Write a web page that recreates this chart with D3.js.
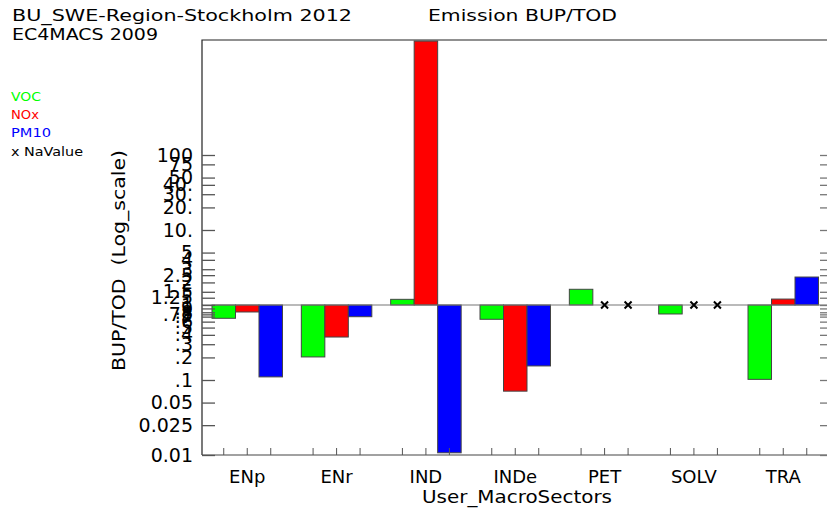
<!DOCTYPE html>
<html>
<head>
<meta charset="utf-8">
<script src="https://cdn.jsdelivr.net/npm/d3@7"></script>
<style>
  html, body { margin: 0; padding: 0; background: #fff; }
  svg { display: block; }
  text { font-family: "DejaVu Sans", sans-serif; fill: #000; }
</style>
</head>
<body>
<svg id="chart" width="827" height="511"></svg>
<script>
// Emission ratio BUP/TOD per macro sector (log scale), null = no value
const categories = ["ENp", "ENr", "IND", "INDe", "PET", "SOLV", "TRA"];
const seriesNames = ["VOC", "NOx", "PM10"];
const seriesColors = ["#00ff00", "#ff0000", "#0000ff"];
const voc  = [0.665, 0.203, 1.19, 0.645, 1.62, 0.759, 0.102];
const nox  = [0.807, 0.374, 3300, 0.071, null, null, 1.20];
const pm10 = [0.110, 0.698, 0.0107, 0.154, null, null, 2.36];
const tickValues = [100, 75, 50, 40, 30, 20, 10, 5, 4, 3, 2.5, 2, 1.5, 1.25, 1,
                    0.9, 0.8, 0.75, 0.7, 0.6, 0.5, 0.4, 0.3, 0.2, 0.1, 0.05, 0.025, 0.01];
const tickLabels = ["100", "75", "50", "40.", "30.", "20.", "10.", "5", "4", "3", "2.5", "2", "1.5", "1.25", "1",
                    ".9", ".8", ".75", ".7", ".6", ".5", ".4", ".3", ".2", ".1", "0.05", "0.025", "0.01"];
const yMin = 0.01, yMax = 3414;

const series = [voc, nox, pm10];
const svg = d3.select("#chart");

const plotLeft = 202, plotRight = 833, plotTop = 40, plotBottom = 455;

const y = d3.scaleLog().domain([yMin, yMax]).range([plotBottom, plotTop]);
const x0 = d3.scaleBand().domain(categories).range([212, 818.5]).paddingInner(0.211).paddingOuter(0);
const x1 = d3.scaleBand().domain(seriesNames).range([0, x0.bandwidth()]);

svg.append("defs").append("clipPath").attr("id", "plot-clip")
  .append("rect").attr("x", plotLeft).attr("y", plotTop)
  .attr("width", plotRight - plotLeft).attr("height", plotBottom - plotTop);

// Titles
svg.append("text").attr("x", 12).attr("y", 21).attr("font-size", 16)
  .attr("textLength", 340).attr("lengthAdjust", "spacingAndGlyphs")
  .text("BU_SWE-Region-Stockholm 2012");
svg.append("text").attr("x", 428).attr("y", 21).attr("font-size", 16)
  .attr("textLength", 189).attr("lengthAdjust", "spacingAndGlyphs")
  .text("Emission BUP/TOD");
svg.append("text").attr("x", 12).attr("y", 40).attr("font-size", 16)
  .attr("textLength", 146).attr("lengthAdjust", "spacingAndGlyphs")
  .text("EC4MACS 2009");

// Legend
const legendItems = [
  { label: "VOC", color: seriesColors[0], y: 101, w: 30 },
  { label: "NOx", color: seriesColors[1], y: 119, w: 28 },
  { label: "PM10", color: seriesColors[2], y: 137, w: 40 },
  { label: "x NaValue", color: "#000", y: 156, w: 72 }
];
svg.append("g").selectAll("text").data(legendItems).join("text")
  .attr("x", 11).attr("y", d => d.y).attr("font-size", 12)
  .attr("textLength", d => d.w).attr("lengthAdjust", "spacingAndGlyphs")
  .style("fill", d => d.color).text(d => d.label);

// Bars from the 1.0 baseline
const barData = [];
categories.forEach((c, i) => {
  seriesNames.forEach((s, j) => {
    barData.push({ cat: c, ser: s, color: seriesColors[j], value: series[j][i] });
  });
});

const plot = svg.append("g").attr("clip-path", "url(#plot-clip)");
plot.selectAll("rect.bar").data(barData.filter(d => d.value != null)).join("rect")
  .attr("class", "bar")
  .attr("x", d => x0(d.cat) + x1(d.ser))
  .attr("width", x1.bandwidth())
  .attr("y", d => Math.min(y(d.value), y(1)))
  .attr("height", d => Math.abs(y(d.value) - y(1)))
  .attr("fill", d => d.color)
  .attr("stroke", "#444").attr("stroke-width", 1);

// Baseline at 1
svg.append("line").attr("x1", plotLeft).attr("x2", plotRight).attr("y1", y(1)).attr("y2", y(1))
  .attr("stroke", "#777").attr("stroke-width", 1.2);

// Missing-value markers
const xs = svg.append("g");
barData.filter(d => d.value == null).forEach(d => {
  const cx = x0(d.cat) + x1(d.ser) + x1.bandwidth() / 2, cy = y(1), r = 3.5;
  xs.append("path").attr("d", `M${cx - r},${cy - r}L${cx + r},${cy + r}M${cx - r},${cy + r}L${cx + r},${cy - r}`)
    .attr("stroke", "#000").attr("stroke-width", 2);
});

// Frame
svg.append("path").attr("d", `M${plotLeft},${plotBottom}V${plotTop}H${plotRight}`)
  .attr("fill", "none").attr("stroke", "#222").attr("stroke-width", 1.2);
svg.append("line").attr("x1", plotLeft).attr("x2", plotRight).attr("y1", plotBottom).attr("y2", plotBottom)
  .attr("stroke", "#444").attr("stroke-width", 1.2);

// Left axis
const yAxis = d3.axisLeft(y).tickValues(tickValues).tickSize(-13).tickPadding(9)
  .tickFormat((d, i) => tickLabels[i]);
const gy = svg.append("g").attr("transform", `translate(${plotLeft},0)`).call(yAxis);
gy.select(".domain").remove();
gy.selectAll(".tick line").attr("stroke", "#555").attr("stroke-width", 1.3);
gy.selectAll(".tick text").attr("font-size", 19).attr("font-family", "DejaVu Sans").attr("fill", "#000");

// Right axis (ticks only)
const yAxisR = d3.axisRight(y).tickValues(tickValues).tickSize(-13).tickFormat("");
const gyr = svg.append("g").attr("transform", `translate(${plotRight},0)`).call(yAxisR);
gyr.select(".domain").remove();
gyr.selectAll(".tick line").attr("stroke", "#777").attr("stroke-width", 1.3);

// Bottom ticks at each bar centre
svg.append("g").selectAll("line").data(barData).join("line")
  .attr("x1", d => x0(d.cat) + x1(d.ser) + x1.bandwidth() / 2)
  .attr("x2", d => x0(d.cat) + x1(d.ser) + x1.bandwidth() / 2)
  .attr("y1", plotBottom).attr("y2", plotBottom - 7)
  .attr("stroke", "#555").attr("stroke-width", 1);

// Category labels
svg.append("g").selectAll("text").data(categories).join("text")
  .attr("x", d => x0(d) + x0.bandwidth() / 2).attr("y", 483)
  .attr("text-anchor", "middle").attr("font-size", 18).text(d => d);

// Axis titles
svg.append("text").attr("x", 422).attr("y", 503).attr("font-size", 17)
  .attr("textLength", 190).attr("lengthAdjust", "spacingAndGlyphs")
  .text("User_MacroSectors");
svg.append("text").attr("transform", "translate(125,371) rotate(-90)")
  .attr("font-size", 17).attr("textLength", 221).attr("lengthAdjust", "spacingAndGlyphs")
  .style("white-space", "pre")
  .text("BUP/TOD  (Log_scale)");
</script>
</body>
</html>
